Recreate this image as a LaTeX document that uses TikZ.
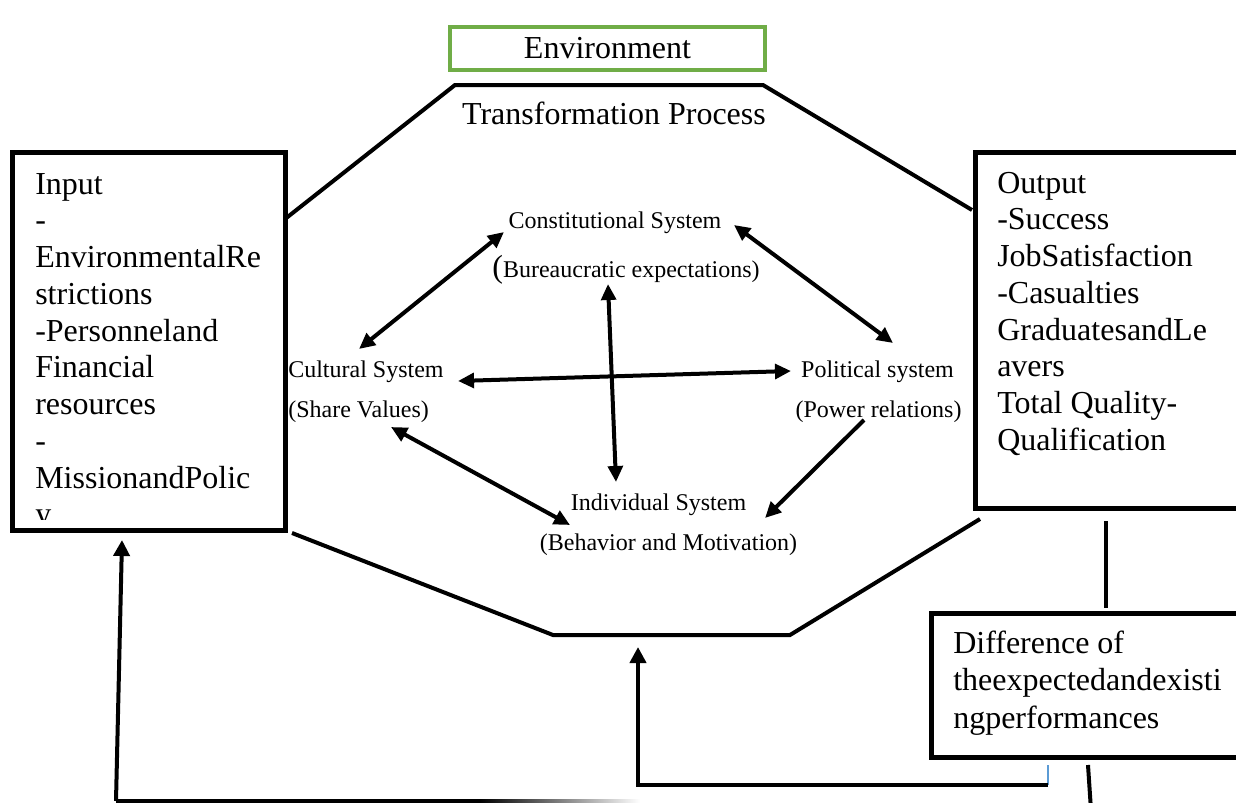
\documentclass[tikz,border=0pt]{standalone}
\usepackage{fontspec}
\setmainfont{Liberation Serif}
\usetikzlibrary{arrows.meta}
\definecolor{envgreen}{HTML}{70AD47}
\definecolor{thinblue}{HTML}{5B9BD5}
\begin{document}
\begin{tikzpicture}[x=0.75pt,y=-0.75pt,
  boxtext/.style={font=\fontsize{24}{28}\selectfont, inner sep=0pt, anchor=base west},
  systext/.style={font=\fontsize{18}{21}\selectfont, inner sep=0pt, anchor=base},
  frame/.style={draw=black, line width=3.75pt, inner sep=0pt},
  octo/.style={line width=3pt},
  tip/.style={-{Triangle[length=12pt,width=12pt]}},
  sysarrow/.style={line width=3pt, {Triangle[length=12pt,width=11pt]}-{Triangle[length=12pt,width=11pt]}},
  sysone/.style={line width=3pt, -{Triangle[length=12pt,width=11pt]}}]
\path[use as bounding box] (0,0) rectangle (1236,803);
\fill[white] (0,0) rectangle (1236,803);
\clip (0,0) rectangle (1236,803);

% boxes
\node[draw=envgreen, line width=3pt, minimum width=236.25pt, minimum height=32.25pt, inner sep=0pt,
      font=\fontsize{24}{28}\selectfont] (env) at (607.5,48.5) {Environment};
\node[font=\fontsize{24}{28}\selectfont, inner sep=0pt, anchor=base] (tp) at (614,124) {Transformation Process};
\node[frame, minimum width=204.75pt, minimum height=283.5pt] (input) at (148.5,341) {};
\node[frame, minimum width=206.25pt, minimum height=267pt] (output) at (1112.5,330) {};
\node[frame, minimum width=239.25pt, minimum height=108pt] (diff) at (1090.5,685) {};

% input text (clipped by the box)
\begin{scope}
\clip (15,155) rectangle (282,519);
\foreach \t [count=\i] in {Input,-,EnvironmentalRe,strictions,-Personneland,Financial,resources,-,MissionandPolic,y}
  \node[boxtext] (in\i) at (35,{194+(\i-1)*36.75}) {\t};
\end{scope}

% output text
\foreach \t [count=\i] in {Output,-Success,JobSatisfaction,-Casualties,GraduatesandLe,avers,Total Quality-,Qualification}
  \node[boxtext] (out\i) at (997,{193+(\i-1)*36.75}) {\t};

% difference text
\foreach \t [count=\i] in {Difference of,theexpectedandexisti,ngperformances}
  \node[boxtext] (dif\i) at (953,{653+(\i-1)*37.5}) {\t};

% octagon
\coordinate (inR) at (285,219);
\coordinate (t1) at (455,85);
\coordinate (t2) at (763,85);
\coordinate (outL) at (972,210);
\coordinate (inBR) at (292,533);
\coordinate (b1) at (553,635);
\coordinate (b2) at (790,635);
\coordinate (outBL) at (980,519);
\draw[octo] (inR) -- (t1) -- (t2) -- (outL);
\draw[octo] (inBR) -- (b1) -- (b2) -- (outBL);

% output -> difference
\coordinate (od1) at (1106,521);
\coordinate (od2) at (1106,608);
\draw[octo] (od1) -- (od2);

% feedback to transformation
\coordinate (fbA) at (1048,765);
\coordinate (fbB) at (1048,785);
\coordinate (fbC) at (638,785);
\coordinate (fbD) at (638,647);
\draw[line width=0.8pt, thinblue] (fbA) -- (fbB);
\draw[octo, tip] (fbB) -- (fbC) -- (fbD);

% feedback to input
\coordinate (flA) at (116,801);
\coordinate (flB) at (122,540);
\coordinate (flC) at (480,801);
\draw[octo, tip] (flA) -- (flB);
\draw[octo] (flA) -- (flC);
\shade[left color=black, right color=white] (480,799) rectangle (640,803);
\coordinate (drA) at (1088,765);
\coordinate (drB) at (1091,810);
\draw[octo] (drA) -- (drB);

% central systems
\node[systext] (const) at (615,228) {Constitutional System};
\node[systext] (bureau) at (626,277) {{\fontsize{24}{24}\selectfont(}Bureaucratic expectations)};
\node[systext, anchor=base west] (cult) at (288,377) {Cultural System};
\node[systext, anchor=base west] (share) at (288,417) {(Share Values)};
\node[systext] (pol) at (877.5,377) {Political system};
\node[systext] (power) at (878.5,417) {(Power relations)};
\node[systext] (indiv) at (658.5,510) {Individual System};
\node[systext] (behav) at (668.5,550) {(Behavior and Motivation)};

\coordinate (a1) at (504,232); \coordinate (a2) at (359,349);
\coordinate (b1s) at (734,225); \coordinate (b2s) at (893,343);
\coordinate (c1) at (608,284); \coordinate (c2) at (616,482);
\coordinate (d1) at (458,381); \coordinate (d2) at (791,371);
\coordinate (e1) at (391,427); \coordinate (e2) at (570,525);
\coordinate (f1) at (864,420); \coordinate (f2) at (765,518);
\draw[sysarrow] (a1) -- (a2);
\draw[sysarrow] (b1s) -- (b2s);
\draw[sysarrow] (c1) -- (c2);
\draw[sysarrow] (d1) -- (d2);
\draw[sysarrow] (e1) -- (e2);
\draw[sysone] (f1) -- (f2);
\end{tikzpicture}
\end{document}
